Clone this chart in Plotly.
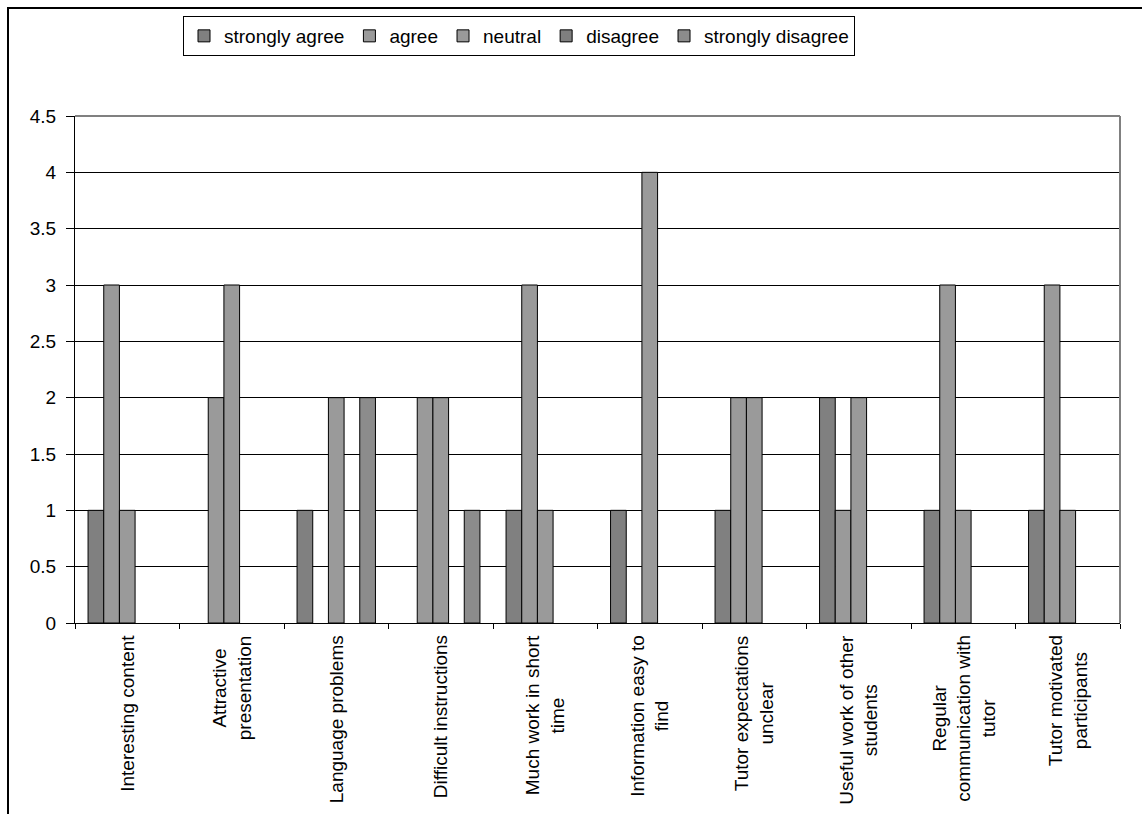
import plotly.graph_objects as go

categories = [
    "Interesting content",
    "Attractive<br>presentation",
    "Language problems",
    "Difficult instructions",
    "Much work in short<br>time",
    "Information easy to<br>find",
    "Tutor expectations<br>unclear",
    "Useful work of other<br>students",
    "Regular<br>communication with<br>tutor",
    "Tutor motivated<br>participants",
]
strongly_agree = [1, 0, 1, 0, 1, 1, 1, 2, 1, 1]
agree = [3, 2, 0, 2, 3, 0, 2, 1, 3, 3]
neutral = [1, 3, 2, 2, 1, 4, 2, 2, 1, 1]
disagree = [0, 0, 0, 0, 0, 0, 0, 0, 0, 0]
strongly_disagree = [0, 0, 2, 1, 0, 0, 0, 0, 0, 0]

series_names = ["strongly agree", "agree", "neutral", "disagree", "strongly disagree"]
series_values = [strongly_agree, agree, neutral, disagree, strongly_disagree]
series_colors = ["#808080", "#9a9a9a", "#9a9a9a", "#7f7f7f", "#8c8c8c"]
y_ticks = [0, 0.5, 1, 1.5, 2, 2.5, 3, 3.5, 4, 4.5]
y_tick_text = ["0", "0.5", "1", "1.5", "2", "2.5", "3", "3.5", "4", "4.5"]

W, H = 1142, 814
L, R, T, B = 75, 22, 116, 191
pw, ph = W - L - R, H - T - B

def px(X):
    return (X - L) / pw

def py(Y):
    return (H - B - Y) / ph

FS = 19
fig = go.Figure()
for name, vals, col in zip(series_names, series_values, series_colors):
    # zero-height bars are not drawn in the original chart
    shown = [v if v != 0 else None for v in vals]
    fig.add_trace(go.Bar(
        x=categories, y=shown, name=name,
        marker=dict(color=col, line=dict(color="black", width=1)),
    ))

# category labels: rotated, lines centred on each other (as in the original)
label_annotations = [
    dict(x=c, xref="x", y=py(633), yref="paper", text=c, showarrow=False,
         textangle=-90, align="center", xanchor="center", yanchor="top",
         font=dict(size=FS, color="black"))
    for c in categories
]

fig.update_layout(
    width=W, height=H,
    margin=dict(l=L, r=R, t=T, b=B, pad=0),
    paper_bgcolor="white", plot_bgcolor="white",
    font=dict(family="Liberation Sans, Arial, sans-serif", size=FS, color="black"),
    barmode="group", bargap=0.25, bargroupgap=0,
    showlegend=True,
    legend=dict(
        orientation="h", x=px(183), y=py(16), xanchor="left", yanchor="top",
        bordercolor="black", borderwidth=1, bgcolor="white",
        font=dict(size=FS), itemwidth=30, tracegroupgap=0,
        traceorder="normal",
    ),
    xaxis=dict(
        type="category", showgrid=False, showline=True, linecolor="black", linewidth=1,
        ticks="outside", ticklen=5, tickcolor="black", tickson="boundaries",
        showticklabels=False, fixedrange=True,
    ),
    yaxis=dict(
        range=[0, 4.5], tickvals=y_ticks, ticktext=y_tick_text,
        showgrid=True, gridcolor="black", gridwidth=1,
        showline=True, linecolor="black", linewidth=1,
        ticks="outside", ticklen=8, tickcolor="black", ticklabelstandoff=6,
        tickfont=dict(size=FS), zeroline=False, fixedrange=True,
    ),
    annotations=label_annotations,
    shapes=[
        dict(type="line", xref="paper", yref="paper", x0=0, x1=1, y0=1, y1=1,
             line=dict(color="#808080", width=2), layer="above"),
        dict(type="line", xref="paper", yref="paper", x0=1, x1=1, y0=0, y1=1,
             line=dict(color="#808080", width=2), layer="above"),
        dict(type="rect", xref="paper", yref="paper",
             x0=px(8), x1=px(1160), y0=py(850), y1=py(8),
             line=dict(color="black", width=2), layer="above"),
    ],
)

fig.write_html("out.html")
